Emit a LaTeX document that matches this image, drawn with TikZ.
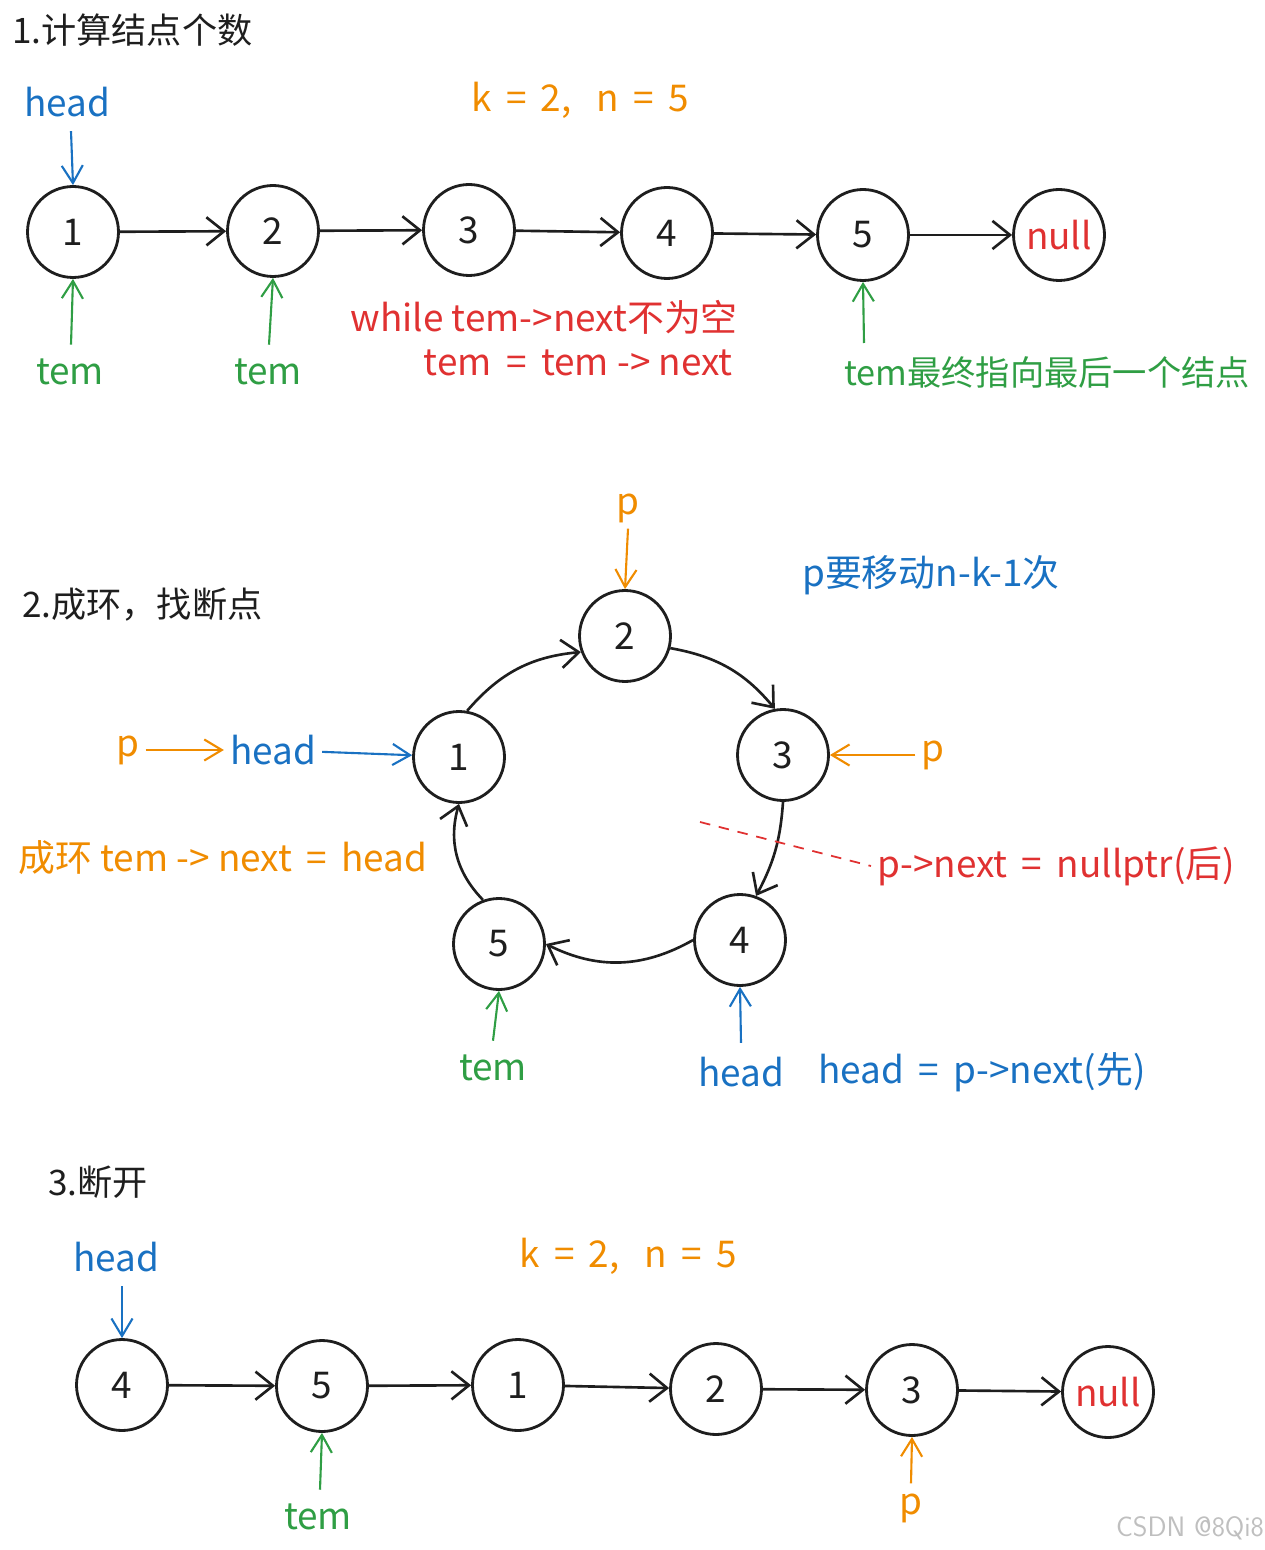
\documentclass[tikz,border=0pt]{standalone}
\usepackage{fontspec}
\newfontfamily\cjk{Noto Sans CJK SC}
\usetikzlibrary{arrows.meta}
\definecolor{HeadClr}{HTML}{1971C2}
\definecolor{PClr}{HTML}{F08C00}
\definecolor{TemClr}{HTML}{2F9E44}
\definecolor{NoteClr}{HTML}{E03131}
\definecolor{InkClr}{HTML}{1E1E1E}

\tikzset{
  every node/.style={font=\cjk\fontsize{21}{25}\selectfont},
  listnode/.style={circle,draw=InkClr,line width=1.6pt,minimum size=1.82cm,inner sep=0pt,text=InkClr},
  link/.style={InkClr,line width=1.5pt,-{Straight Barb[length=10pt,width=16pt]}},
  ptr/.style={line width=1.2pt,-{Straight Barb[length=10pt,width=12pt]}},
  cutline/.style={NoteClr,line width=1pt,dashed,dash pattern=on 6pt off 5pt},
  title/.style={anchor=west,text=InkClr,font=\cjk\fontsize{20}{24}\selectfont},
}

\begin{document}
\begin{tikzpicture}[x=0.02cm,y=-0.02cm]
\useasboundingbox (0,0) rectangle (1264,1550);

% 1. count
\node[title] (t1) at (6,30) {1.计算结点个数};
\node[text=PClr] (kn1) at (580,100) {k \,=\, 2,\ \ \ n \,=\, 5};

\node[listnode] (a1) at (73,232) {1};
\node[listnode] (a2) at (273,231) {2};
\node[listnode] (a3) at (469,230) {3};
\node[listnode] (a4) at (667,233) {4};
\node[listnode] (a5) at (863,235) {5};
\node[listnode,text=NoteClr] (anull) at (1059,235) {null};

\draw[link] (a1) -- (a2);
\draw[link] (a2) -- (a3);
\draw[link] (a3) -- (a4);
\draw[link] (a4) -- (a5);
\draw[link] (a5) -- (anull);

\node[text=HeadClr] (ahead) at (67,102) {head};
\draw[ptr,HeadClr] (ahead.south) ++(4,8) coordinate (aheadtip) -- (a1.north);

\node[text=TemClr] (atem1) at (70,372) {tem};
\node[text=TemClr] (atem2) at (268,372) {tem};
\draw[ptr,TemClr] (atem1.north) ++(1,-8) coordinate (atemf1) -- (a1.south);
\draw[ptr,TemClr] (atem2.north) ++(1,-8) coordinate (atemf2) -- (a2.south);

\node[text=NoteClr,anchor=east] (awhile) at (744,317) {while tem->next不为空};
\node[text=NoteClr,anchor=east] (astep) at (739,363) {tem \,=\, tem -> next};

\node[text=TemClr,anchor=east,font=\cjk\fontsize{19.5}{23}\selectfont] (alast) at (1256,372) {tem最终指向最后一个结点};
\coordinate (alastf) at (864,343);
\draw[ptr,TemClr] (alastf) -- (a5.south);

% 2. ring
\node[title] (t2) at (16,605) {2.成环，找断点};
\node[text=HeadClr,anchor=west] (pmove) at (796,575) {p要移动n-k-1次};

\node[listnode] (r2) at (625,636) {2};
\node[listnode] (r1) at (459,757) {1};
\node[listnode] (r3) at (783,755) {3};
\node[listnode] (r4) at (740,940) {4};
\node[listnode] (r5) at (499,944) {5};

\draw[link] (r1.80) to[bend left=22] (r2.200);
\draw[link] (r2.-15) to[bend left=20] (r3.100);
\draw[link] (r3.-90) to[bend left=12] (r4.70);
\draw[link] (r4.180) to[bend left=28] (r5.0);
\draw[link] (r5.110) to[bend left=30] (r1.-90);

\node[text=PClr] (ptop) at (628,508) {p};
\draw[ptr,PClr] (ptop.south) -- (r2.north);

\node[text=PClr] (pleft) at (128,750) {p};
\node[text=HeadClr] (rhead) at (273,750) {head};
\draw[ptr,PClr] (pleft) -- (rhead);
\draw[ptr,HeadClr] (rhead) -- (r1);

\node[text=PClr] (pright) at (933,755) {p};
\draw[ptr,PClr] (pright) -- (r3);

\node[text=PClr,anchor=west] (ringnote) at (12,858) {成环 tem -> next \,=\, head};

\coordinate (cutA) at (700,822);
\node[text=NoteClr,anchor=west] (nullp) at (871,866) {p->next \,=\, nullptr(后)};
\draw[cutline] (cutA) -- (nullp.west);

\node[text=TemClr] (rtem) at (493,1068) {tem};
\draw[ptr,TemClr] (rtem.north) ++(0,-8) coordinate (rtemf) -- (r5.south);

\node[text=HeadClr] (rhead2) at (741,1072) {head};
\draw[ptr,HeadClr] (rhead2.north) ++(0,-8) coordinate (rheadf) -- (r4.south);
\node[text=HeadClr,anchor=west] (headnext) at (812,1072) {head \,=\, p->next(先)};

% 3. break
\node[title] (t3) at (42,1182) {3.断开};
\node[text=PClr] (kn3) at (628,1256) {k \,=\, 2,\ \ \ n \,=\, 5};

\node[listnode] (b4) at (122,1385) {4};
\node[listnode] (b5) at (322,1386) {5};
\node[listnode] (b1) at (518,1385) {1};
\node[listnode] (b2) at (716,1389) {2};
\node[listnode] (b3) at (912,1390) {3};
\node[listnode,text=NoteClr] (bnull) at (1108,1392) {null};

\draw[link] (b4) -- (b5);
\draw[link] (b5) -- (b1);
\draw[link] (b1) -- (b2);
\draw[link] (b2) -- (b3);
\draw[link] (b3) -- (bnull);

\node[text=HeadClr] (bhead) at (116,1257) {head};
\draw[ptr,HeadClr] (bhead.south) ++(6,8) coordinate (bheadf) -- (b4.north);

\node[text=TemClr] (btem) at (318,1517) {tem};
\draw[ptr,TemClr] (btem.north) ++(2,-8) coordinate (btemf) -- (b5.south);

\node[text=PClr] (bp) at (911,1508) {p};
\draw[ptr,PClr] (bp.north) ++(0,-4) coordinate (bpf) -- (b3.south);

\node[text=black!25,font=\fontsize{16}{18}\selectfont\sffamily] (mark) at (1190,1528) {CSDN @8Qi8};
\end{tikzpicture}
\end{document}
